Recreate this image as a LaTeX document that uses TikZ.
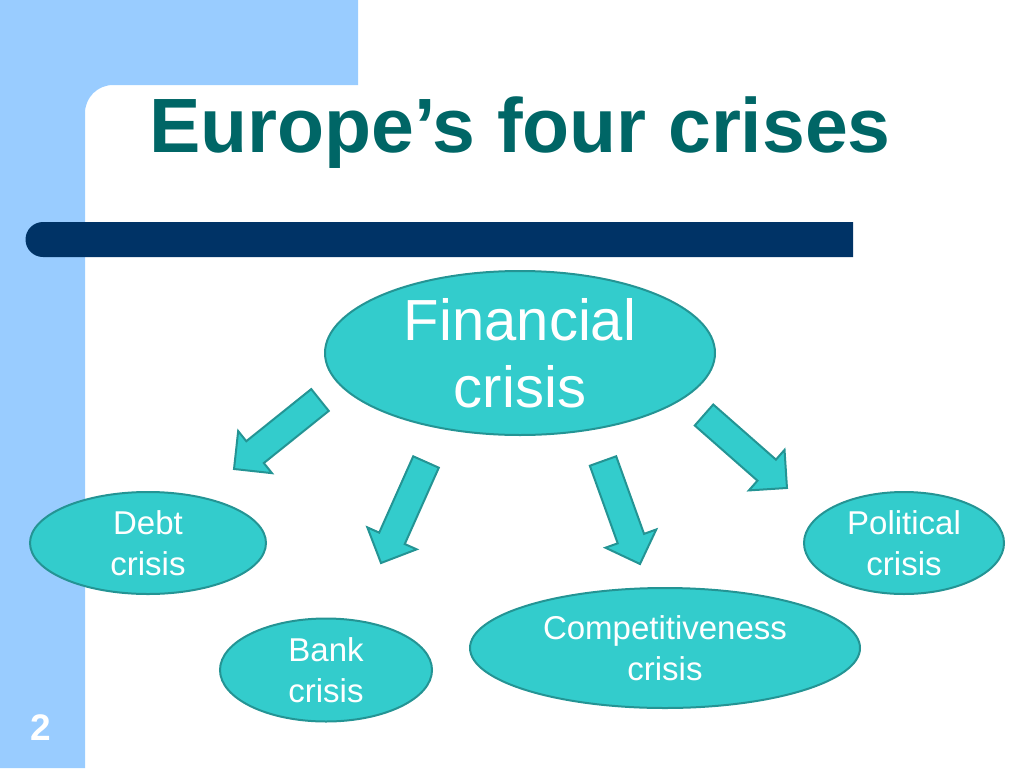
\documentclass[tikz,border=0pt]{standalone}
\usepackage{fontspec}
\setmainfont{Liberation Sans}
\usetikzlibrary{shapes.geometric,calc}
\definecolor{slideblue}{RGB}{153,204,255}
\definecolor{barnavy}{RGB}{0,51,102}
\definecolor{titleteal}{RGB}{0,102,102}
\definecolor{crisisfill}{RGB}{51,204,204}
\definecolor{crisisline}{RGB}{36,148,148}
\tikzstyle{crisis} = [ellipse, draw=crisisline, fill=crisisfill, line width=2pt,
    text=white, align=center, inner sep=0pt, font=\fontsize{33}{41}\selectfont]
\tikzstyle{bigcrisis} = [crisis, inner ysep=-20pt, font=\fontsize{58}{67}\selectfont]
\tikzstyle{blockarrow} = [draw=crisisline, fill=crisisfill, line width=2pt]
\tikzstyle{slidetitle} = [text=titleteal, anchor=base, font=\bfseries\fontsize{77}{80}\selectfont]
\tikzstyle{pagenum} = [text=white, anchor=base, font=\bfseries\fontsize{37}{40}\selectfont]

% fat arrow from a tail point to a tip point
\newcommand{\crisisarrow}[2]{%
  \draw[blockarrow] let \p1 = ($(#2)-(#1)$), \n1 = {atan2(\y1,\x1)},
      \n2 = {veclen(\x1,\y1)-27pt}, \n3 = {veclen(\x1,\y1)} in
    [shift={(#1)}, rotate=\n1]
    (0pt,-14pt) -- (\n2,-14pt) -- (\n2,-27pt) -- (\n3,0pt) -- (\n2,27pt)
    -- (\n2,14pt) -- (0pt,14pt) -- cycle;}

\begin{document}
\begin{tikzpicture}[x=1pt,y=-1pt]
\useasboundingbox (0,0) rectangle (1024,768);
% slide frame
\fill[slideblue] (0,0) -- (358,0) -- (358,85) -- (113,85)
    arc[start angle=270, end angle=180, radius=28] -- (85,768) -- (0,768) -- cycle;
\fill[barnavy] (853,222) -- (43,222) arc[start angle=270, end angle=90, radius=17.5]
    -- (853,257) -- cycle;
\node[slidetitle] (title) at (520,152) {Europe’s four crises};
\node[pagenum] (page) at (41,740) {2};

% the crises
\node[bigcrisis, minimum width=390, minimum height=164] (financial) at (520,353) {Financial\\crisis};
\node[crisis, minimum width=236, minimum height=102] (debt) at (148,543) {Debt\\crisis};
\node[crisis, minimum width=200, minimum height=102] (political) at (904,543) {Political\\crisis};
\node[crisis, minimum width=212, minimum height=103] (bank) at (326,670) {Bank\\crisis};
\node[crisis, minimum width=390, minimum height=120] (compet) at (665,648) {Competitiveness\\crisis};

% arrows
\coordinate (debttail) at (320,400);
\coordinate (debttip) at (234,469);
\coordinate (banktail) at (426,462);
\coordinate (banktip) at (381,563);
\coordinate (comptail) at (603,461);
\coordinate (comptip) at (640,564);
\coordinate (poltail) at (704,415);
\coordinate (poltip) at (787,488);
\crisisarrow{debttail}{debttip}
\crisisarrow{banktail}{banktip}
\crisisarrow{comptail}{comptip}
\crisisarrow{poltail}{poltip}
\end{tikzpicture}
\end{document}
